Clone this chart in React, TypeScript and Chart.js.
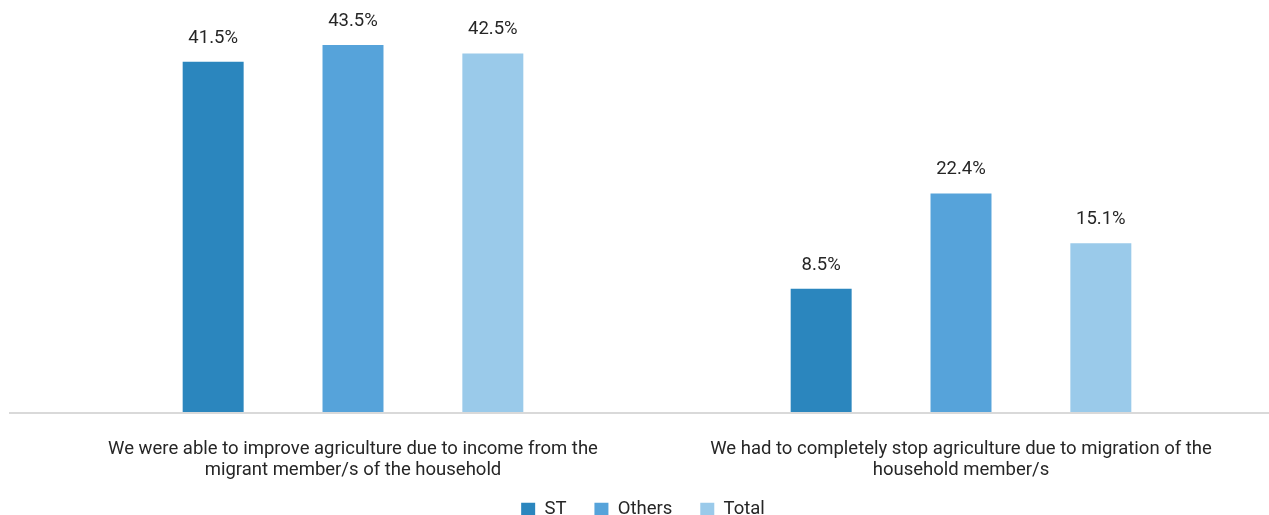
import React, { useEffect, useRef } from "react";
import { Chart, registerables } from "chart.js";

Chart.register(...registerables);

const categories: string[][] = [
  ["We were able to improve agriculture due to income from the", "migrant member/s of the household"],
  ["We had to completely stop agriculture due to migration of the", "household member/s"],
];
const seriesNames = ["ST", "Others", "Total"];
const colors = ["#2B86BE", "#56A3DA", "#9ACAEA"];
// bar heights as drawn in the reference
const stBars = [41.5, 14.6];
const othersBars = [43.5, 25.9];
const totalBars = [42.5, 20.0];
// printed labels
const stLabels = ["41.5%", "8.5%"];
const othersLabels = ["43.5%", "22.4%"];
const totalLabels = ["42.5%", "15.1%"];

const FONT = "Roboto";
const TEXT = "#262626";
const FS = 18.5;

export default function App() {
  const ref = useRef<HTMLCanvasElement | null>(null);
  useEffect(() => {
    document.body.style.margin = "0";
    const labelSets = [stLabels, othersLabels, totalLabels];
    const valueLabels = {
      id: "valueLabels",
      afterDatasetsDraw(chart: any) {
        const ctx = chart.ctx;
        ctx.save();
        ctx.font = `${FS}px ${FONT}`;
        ctx.fillStyle = TEXT;
        ctx.textAlign = "center";
        ctx.textBaseline = "alphabetic";
        chart.data.datasets.forEach((ds: any, i: number) => {
          const meta = chart.getDatasetMeta(i);
          meta.data.forEach((bar: any, j: number) => {
            ctx.fillText(labelSets[i][j], bar.x, bar.y - 19);
          });
        });
        ctx.restore();
      },
    };
    const baseLine = {
      id: "baseLine",
      afterLayout(chart: any) {
        if (chart.legend) {
          chart.legend.left -= 28;
          chart.legend.right -= 0;
        }
      },
      beforeDraw(chart: any) {
        if (chart.scales.x) chart.scales.x._computeLabelArea = () => undefined;
      },
      beforeDatasetsDraw(chart: any) {
        const ctx = chart.ctx;
        const y = chart.scales.y.getPixelForValue(0);
        ctx.save();
        ctx.strokeStyle = "#D9D9D9";
        ctx.lineWidth = 2;
        ctx.beginPath();
        ctx.moveTo(9, y + 1);
        ctx.lineTo(chart.width, y + 1);
        ctx.stroke();
        ctx.restore();
      },
    };
    const chart = new Chart(ref.current!, {
      type: "bar",
      data: {
        labels: categories,
        datasets: [
          { label: seriesNames[0], data: stBars, backgroundColor: colors[0] },
          { label: seriesNames[1], data: othersBars, backgroundColor: colors[1] },
          { label: seriesNames[2], data: totalBars, backgroundColor: colors[2] },
        ],
      },
      options: {
        responsive: false,
        animation: false,
        layout: { padding: { left: 49, right: 4, top: 7, bottom: -14 } },
        datasets: { bar: { categoryPercentage: 0.69, barPercentage: 0.436 } },
        scales: {
          x: {
            grid: { display: false },
            border: { display: false },
            afterFit(scale: any) {
              scale.height -= 28;
            },
            ticks: { color: TEXT, font: { family: FONT, size: FS, lineHeight: 1.15 }, padding: 19, maxRotation: 0, autoSkip: false },
          },
          y: { display: false, min: 0, max: 48 },
        },
        plugins: {
          legend: {
            position: "bottom",
            labels: {
              color: TEXT,
              font: { family: FONT, size: FS },
              boxWidth: 14,
              boxHeight: 14,
              padding: 28,
            },
          },
          tooltip: { enabled: false },
        },
      },
      plugins: [valueLabels, baseLine],
    });
    return () => chart.destroy();
  }, []);
  return <canvas ref={ref} width={1269} height={515} style={{ display: "block" }} />;
}
